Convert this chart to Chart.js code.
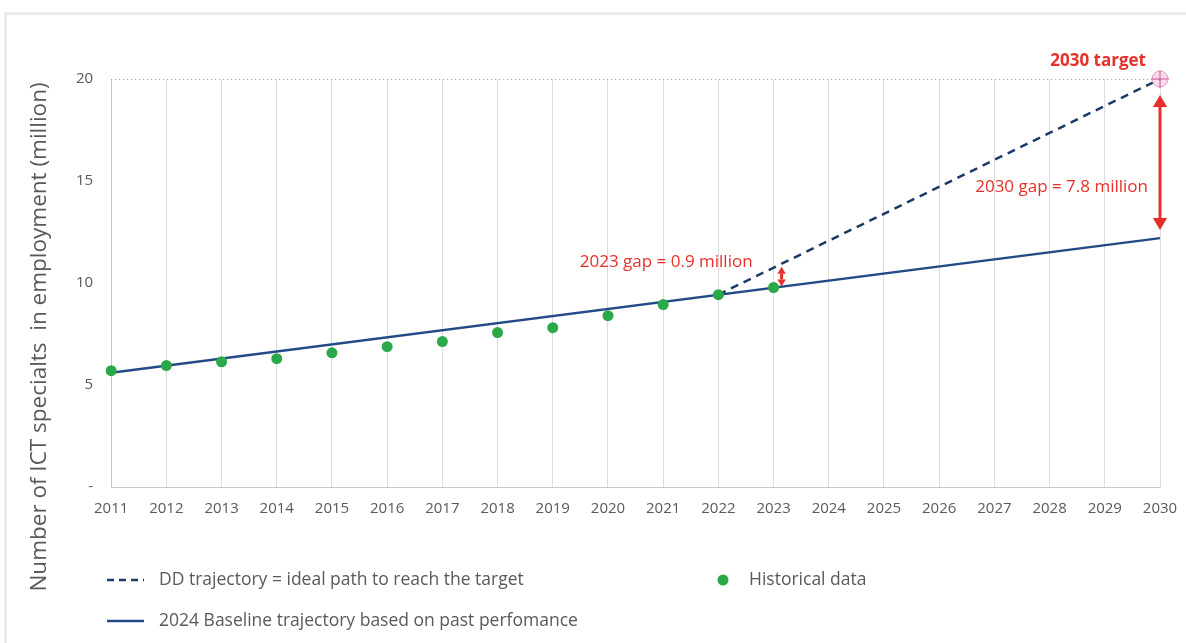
<!DOCTYPE html>
<html>
<head>
<meta charset="utf-8">
<script src="https://cdn.jsdelivr.net/npm/chart.js@4.4.1/dist/chart.umd.min.js"></script>
<style>
  html, body { margin: 0; padding: 0; background: #fff; }
  #frame { position: absolute; left: 4px; top: 12px; width: 1190px; height: 640px;
           border-top: 3px solid #ececec; border-left: 3px solid #ececec; }
  #wrap { position: absolute; left: 0; top: 0; width: 1186px; height: 643px; }
</style>
</head>
<body>
<div id="frame"></div>
<div id="wrap"><canvas id="chart" width="1186" height="643"></canvas></div>
<script>
const years = ["2011","2012","2013","2014","2015","2016","2017","2018","2019","2020",
               "2021","2022","2023","2024","2025","2026","2027","2028","2029","2030"];
const historical = [5.70, 5.95, 6.14, 6.29, 6.58, 6.88, 7.13, 7.57, 7.81, 8.40,
                    8.94, 9.43, 9.78, null, null, null, null, null, null, null];
// straight lines: only the end points are known, spanGaps joins them
const baseline = [5.6, null, null, null, null, null, null, null, null, null,
                  null, null, null, null, null, null, null, null, null, 12.2];
const ddTrajectory = [null, null, null, null, null, null, null, null, null, null,
                      null, 9.43, null, null, null, null, null, null, null, 20];
const target2030 = 20;
const gap2023 = { year: "2023", from: 9.78, to: 10.7, label: "2023 gap = 0.9 million" };
const gap2030 = { year: "2030", from: 12.2, to: 20, label: "2030 gap = 7.8 million", at: 14.7 };
const yTicks = [0, 5, 10, 15, 20];

const red = "#e8302a";
const navy = "#1c3a66";
const blue = "#234a86";
const green = "#2ba84a";
const grey = "#595959";
const font = "'Open Sans', sans-serif";

function arrow(ctx, x, y1, y2, head) {
  ctx.save();
  ctx.strokeStyle = red; ctx.fillStyle = red; ctx.lineWidth = 3;
  ctx.beginPath(); ctx.moveTo(x, y1 + head); ctx.lineTo(x, y2 - head); ctx.stroke();
  ctx.beginPath(); ctx.moveTo(x, y1); ctx.lineTo(x - head * 0.6, y1 + head); ctx.lineTo(x + head * 0.6, y1 + head); ctx.fill();
  ctx.beginPath(); ctx.moveTo(x, y2); ctx.lineTo(x - head * 0.6, y2 - head); ctx.lineTo(x + head * 0.6, y2 - head); ctx.fill();
  ctx.restore();
}

const extras = {
  id: "extras",
  beforeDatasetsDraw(chart) {
    const { ctx, chartArea, scales: { y } } = chart;
    const yy = Math.round(y.getPixelForValue(target2030)) + 0.5;
    ctx.save();
    ctx.strokeStyle = "#9a9a9a"; ctx.lineWidth = 1; ctx.setLineDash([1, 3]);
    ctx.beginPath(); ctx.moveTo(chartArea.left, yy); ctx.lineTo(chartArea.right, yy); ctx.stroke();
    ctx.restore();
  },
  afterDraw(chart) {
    const { ctx, scales: { x, y } } = chart;
    ctx.save();
    // target marker
    const tx = x.getPixelForValue(years.indexOf("2030"));
    const ty = y.getPixelForValue(target2030);
    ctx.fillStyle = "rgba(232,150,200,0.35)"; ctx.strokeStyle = "#e49ac8"; ctx.lineWidth = 1;
    ctx.beginPath(); ctx.arc(tx, ty, 8, 0, Math.PI * 2); ctx.fill(); ctx.stroke();
    ctx.strokeStyle = "#d25a9a";
    ctx.beginPath(); ctx.moveTo(tx - 9, ty); ctx.lineTo(tx + 9, ty); ctx.moveTo(tx, ty - 9); ctx.lineTo(tx, ty + 9); ctx.stroke();
    ctx.fillStyle = red; ctx.font = "bold 17px " + font; ctx.textAlign = "right"; ctx.textBaseline = "middle";
    ctx.fillText("2030 target", tx - 14, ty - 18);
    // gap arrows
    arrow(ctx, tx, y.getPixelForValue(gap2030.to) + 16, y.getPixelForValue(gap2030.from) - 8, 12);
    const gx = x.getPixelForValue(years.indexOf(gap2023.year)) + 8;
    arrow(ctx, gx, y.getPixelForValue(gap2023.to) - 2, y.getPixelForValue(gap2023.from) - 1, 7);
    ctx.font = "17px " + font; ctx.fillStyle = red; ctx.textAlign = "right";
    ctx.fillText(gap2030.label, tx - 12, y.getPixelForValue(gap2030.at));
    ctx.fillText(gap2023.label, gx - 29, y.getPixelForValue(gap2023.to) - 7);
    // y title
    ctx.fillStyle = grey; ctx.font = "22.5px " + font; ctx.textAlign = "center";
    ctx.translate(40, 337); ctx.rotate(-Math.PI / 2);
    ctx.fillText("Number of ICT specialts  in employment (million)", 0, 0);
    ctx.restore();
    // legend
    ctx.save();
    ctx.font = "17.5px " + font; ctx.fillStyle = grey; ctx.textAlign = "left"; ctx.textBaseline = "middle";
    ctx.strokeStyle = navy; ctx.lineWidth = 2.5; ctx.setLineDash([7, 5]);
    ctx.beginPath(); ctx.moveTo(107, 580); ctx.lineTo(144, 580); ctx.stroke();
    ctx.setLineDash([]); ctx.strokeStyle = blue;
    ctx.beginPath(); ctx.moveTo(107, 621); ctx.lineTo(144, 621); ctx.stroke();
    ctx.fillText("DD trajectory = ideal path to reach the target", 159, 580);
    ctx.fillText("2024 Baseline trajectory based on past perfomance", 159, 621);
    ctx.fillStyle = green;
    ctx.beginPath(); ctx.arc(723, 580, 5.5, 0, Math.PI * 2); ctx.fill();
    ctx.fillStyle = grey;
    ctx.fillText("Historical data", 749, 580);
    ctx.restore();
  }
};

new Chart(document.getElementById("chart"), {
  type: "line",
  data: {
    labels: years,
    datasets: [
      { label: "2024 Baseline trajectory based on past perfomance", data: baseline, spanGaps: true,
        borderColor: blue, borderWidth: 2.5, pointRadius: 0, order: 3 },
      { label: "DD trajectory = ideal path to reach the target", data: ddTrajectory, spanGaps: true,
        borderColor: navy, borderWidth: 2.5, borderDash: [8, 6], pointRadius: 0, order: 2 },
      { label: "Historical data", data: historical, showLine: false,
        pointRadius: 5.5, pointBackgroundColor: green, pointBorderWidth: 0, order: 1 }
    ]
  },
  options: {
    responsive: false,
    animation: false,
    layout: { padding: { left: 66, right: 0, top: 79, bottom: 112 } },
    plugins: { legend: { display: false }, tooltip: { enabled: false } },
    scales: {
      x: {
        afterFit: s => { s.paddingRight = 26; s.paddingLeft = 0; },
        grid: { color: "#dcdcdc", lineWidth: 1, drawTicks: false },
        border: { color: "#c8c8c8" },
        ticks: { color: grey, font: { family: font, size: 15 }, padding: 13, maxRotation: 0, autoSkip: false }
      },
      y: {
        min: 0, max: 20,
        afterBuildTicks: axis => { axis.ticks = yTicks.map(v => ({ value: v })); },
        grid: { display: false },
        border: { color: "#c8c8c8" },
        ticks: { color: grey, font: { family: font, size: 15 }, padding: 10,
                 callback: v => v === 0 ? "-" : v }
      }
    }
  },
  plugins: [extras]
});
</script>
</body>
</html>
